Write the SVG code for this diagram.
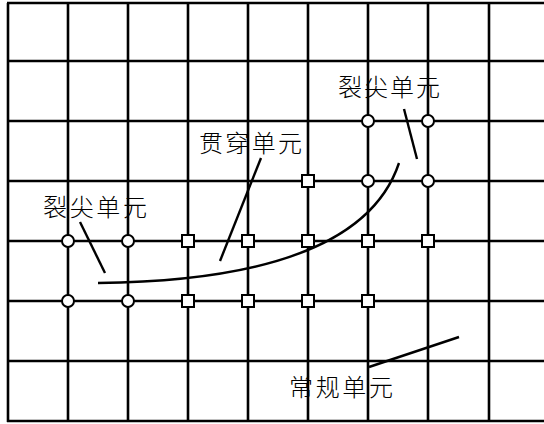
<svg xmlns="http://www.w3.org/2000/svg" width="544" height="424" viewBox="0 0 544 424">
<style>
.grid{stroke:#000;stroke-width:2.6;fill:none}
.ln{stroke:#000;stroke-width:2.4;fill:none;stroke-linecap:butt}
.c{fill:#fff;stroke:#000;stroke-width:2}
.s{fill:#fff;stroke:#000;stroke-width:2}
.t{font-family:"Noto Sans CJK SC","Noto Sans",sans-serif;font-size:24px;fill:#000;font-weight:300}
</style>
<rect width="544" height="424" fill="#fff"/>
<g id="grid" class="grid">
<path d="M7,3H544M7,61H544M7,121H544M7,181H544M7,241H544M7,301H544M7,361H544M7,421H544"/>
<path d="M8,3V422M68,3V422M128,3V422M188,3V422M248,3V422M308,3V422M368,3V422M428,3V422M489,3V422"/>
</g>
<g id="connectors" class="ln">
<path d="M98,283 Q360,280 399,163"/>
<path d="M404,109 L417,159"/>
<path d="M80,222 L105,273"/>
<path d="M261,158 L220,261"/>
<path d="M369,367 L459,337"/>
</g>
<g id="tip-nodes">
<circle class="c" cx="68" cy="241" r="6"/>
<circle class="c" cx="128" cy="241" r="6"/>
<circle class="c" cx="68" cy="301" r="6"/>
<circle class="c" cx="128" cy="301" r="6"/>
<circle class="c" cx="368" cy="121" r="6"/>
<circle class="c" cx="428" cy="121" r="6"/>
<circle class="c" cx="368" cy="181" r="6"/>
<circle class="c" cx="428" cy="181" r="6"/>
</g>
<g id="through-nodes">
<rect class="s" x="182" y="235" width="12" height="12"/>
<rect class="s" x="242" y="235" width="12" height="12"/>
<rect class="s" x="302" y="235" width="12" height="12"/>
<rect class="s" x="362" y="235" width="12" height="12"/>
<rect class="s" x="422" y="235" width="12" height="12"/>
<rect class="s" x="302" y="175" width="12" height="12"/>
<rect class="s" x="182" y="295" width="12" height="12"/>
<rect class="s" x="242" y="295" width="12" height="12"/>
<rect class="s" x="302" y="295" width="12" height="12"/>
<rect class="s" x="362" y="295" width="12" height="12"/>
</g>
<g id="labels">
<text id="label-tip-right" class="t" x="338" y="96" textLength="102">裂尖单元</text>
<text id="label-tip-left" class="t" x="43" y="216" textLength="104">裂尖单元</text>
<text id="label-through" class="t" x="199" y="152" textLength="103">贯穿单元</text>
<text id="label-regular" class="t" x="289" y="396" textLength="104">常规单元</text>
</g>
</svg>
